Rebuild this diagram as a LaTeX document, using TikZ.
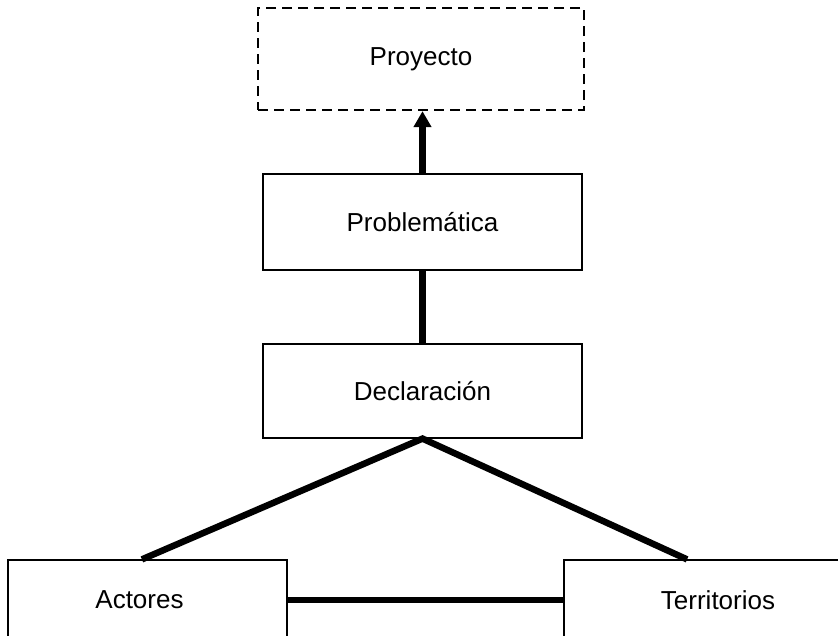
\documentclass[tikz,border=0pt]{standalone}
\usepackage{fontspec}
\setmainfont{Liberation Sans}
\usepackage{tikz}
\usetikzlibrary{arrows.meta,calc}

\begin{document}
\begin{tikzpicture}[line cap=butt,line join=miter,x=1pt,y=-1pt,
  caja/.style={draw,line width=1.2pt,inner sep=0pt,font=\fontsize{26}{30}\selectfont},
  enlace/.style={line width=6.5pt}]
\useasboundingbox (0,0) rectangle (838,635);
\clip (0,0) rectangle (838,635);
\node[caja,dashed,dash pattern=on 10pt off 6pt,line width=2.2pt,minimum width=326pt,minimum height=102pt] (proyecto) at (421,59) {Proyecto};
\node[caja,minimum width=319pt,minimum height=96pt] (problematica) at (422.5,222) {Problemática};
\node[caja,minimum width=319pt,minimum height=94pt] (declaracion) at (422.5,391) {Declaración};
\node[caja,minimum width=279pt,minimum height=80pt] (actores) at (147.5,600) {\hspace*{-16pt}Actores};
\node[caja,minimum width=308pt,minimum height=80pt] (territorios) at (718,600) {Territorios};
\draw [enlace,-{Triangle[length=16pt,width=17pt]}] (problematica.north) -- (problematica.north |- proyecto.south);
\draw [enlace] (problematica.south) -- (declaracion.north);
\draw [enlace] ($(actores.north west)!0.48!(actores.north east)$) -- (declaracion.south) -- ($(territorios.north west)!0.40!(territorios.north east)$);
\draw [enlace] (actores.east) -- (territorios.west);
\end{tikzpicture}
\end{document}
